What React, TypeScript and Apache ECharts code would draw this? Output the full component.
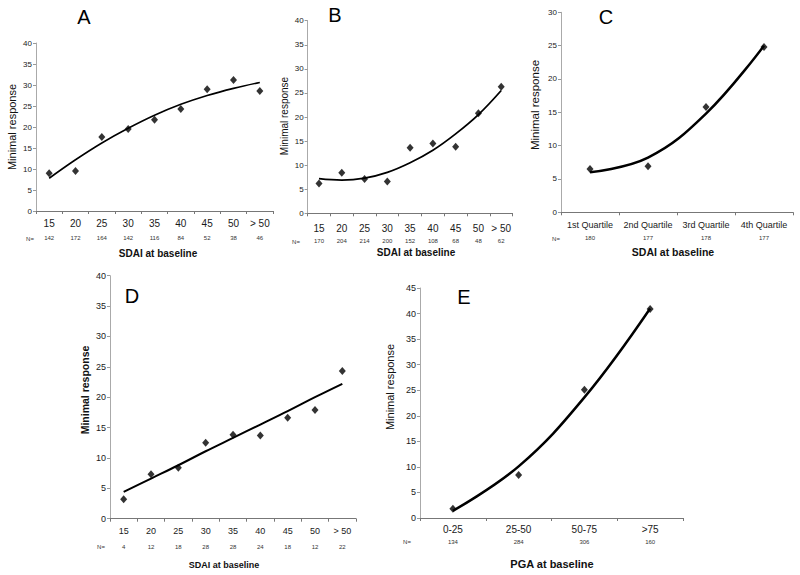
import React, { useEffect, useRef } from "react";
import * as echarts from "echarts";

const FONT = "'Liberation Sans', Arial, sans-serif";

const catsSDAI = ["15", "20", "25", "30", "35", "40", "45", "50", "> 50"];
const catsQuartile = ["1st Quartile", "2nd Quartile", "3rd Quartile", "4th Quartile"];
const catsPGA = ["0-25", "25-50", "50-75", ">75"];

const nA = ["142", "172", "164", "142", "116", "84", "52", "38", "46"];
const pointsA = [9.0, 9.5, 17.6, 19.5, 21.7, 24.3, 29.0, 31.2, 28.6];
const trendA = [7.8, 12.2, 16.2, 19.7, 22.8, 25.4, 27.5, 29.2, 30.6];

const nB = ["170", "204", "214", "200", "152", "108", "68", "48", "62"];
const pointsB = [6.2, 8.4, 7.1, 6.6, 13.6, 14.5, 13.8, 20.8, 26.3];
const trendB = [7.2, 6.9, 7.3, 8.5, 10.5, 13.1, 16.5, 20.5, 25.5];

const nC = ["180", "177", "178", "177"];
const pointsC = [6.5, 6.9, 15.8, 24.8];
const trendC = [6.0, 8.2, 14.8, 25.0];

const nD = ["4", "12", "18", "28", "28", "24", "18", "12", "22"];
const pointsD = [3.2, 7.3, 8.4, 12.5, 13.8, 13.7, 16.6, 17.9, 24.3];
const trendD = [4.4, 6.6, 8.8, 11.1, 13.3, 15.5, 17.7, 20.0, 22.2];

const nE = ["134", "284", "306", "160"];
const pointsE = [1.8, 8.4, 25.1, 40.9];
const trendE = [1.4, 10.1, 23.6, 41.0];

const panels = [
  {
    letter: "A", cats: catsSDAI, n: nA, pts: pointsA, trend: trendA, yMax: 40,
    grid: { left: 36, top: 43, width: 237, height: 168 },
    xFont: 10, xMargin: 7, nOffset: 24, yFont: 8, lineW: 1.6,
    title: [84, 17], ylab: { x: 12, y: 127, size: 11, bold: false },
    xname: { text: "SDAI at baseline", x: 158, y: 253, size: 10 },
    neq: [30, 239],
  },
  {
    letter: "B", cats: catsSDAI, n: nB, pts: pointsB, trend: trendB, yMax: 40,
    grid: { left: 307.6, top: 20.7, width: 205, height: 192.6 },
    xFont: 10, xMargin: 10, nOffset: 25, yFont: 8, lineW: 1.8,
    title: [335, 15], ylab: { x: 284, y: 116, size: 10, bold: false },
    xname: { text: "SDAI at baseline", x: 416, y: 252, size: 10 },
    neq: [296, 242],
  },
  {
    letter: "C", cats: catsQuartile, n: nC, pts: pointsC, trend: trendC, yMax: 30,
    grid: { left: 561, top: 12.3, width: 232, height: 200 },
    xFont: 9, xMargin: 8, nOffset: 23, yFont: 8, lineW: 2.5,
    title: [606, 17], ylab: { x: 535, y: 105, size: 11.5, bold: false },
    xname: { text: "SDAI at baseline", x: 673, y: 252, size: 10.5 },
    neq: [556, 239],
  },
  {
    letter: "D", cats: catsSDAI, n: nD, pts: pointsD, trend: trendD, yMax: 40,
    grid: { left: 110, top: 275.7, width: 246, height: 243 },
    xFont: 9, xMargin: 8, nOffset: 25, yFont: 9, lineW: 2,
    title: [132, 296], ylab: { x: 85, y: 390, size: 10.5, bold: true },
    xname: { text: "SDAI at baseline", x: 224, y: 565, size: 9 },
    neq: [101, 547],
  },
  {
    letter: "E", cats: catsPGA, n: nE, pts: pointsE, trend: trendE, yMax: 45,
    grid: { left: 420, top: 288, width: 263, height: 230 },
    xFont: 10, xMargin: 6, nOffset: 21, yFont: 9, lineW: 2.5,
    title: [464, 297], ylab: { x: 390, y: 387, size: 11, bold: false },
    xname: { text: "PGA at baseline", x: 552, y: 564, size: 11 },
    neq: [407, 542],
  },
];

function buildOption() {
  const grid: any[] = [];
  const xAxis: any[] = [];
  const yAxis: any[] = [];
  const series: any[] = [];
  const graphic: any[] = [];

  panels.forEach((p, i) => {
    grid.push({ ...p.grid });
    xAxis.push({
      type: "category",
      gridIndex: i,
      data: p.cats,
      boundaryGap: true,
      axisLine: { show: true, onZero: false, lineStyle: { color: "#777", width: 1 } },
      axisTick: { show: true, length: 3, lineStyle: { color: "#777" } },
      axisLabel: { color: "#1a1a1a", fontSize: p.xFont, fontFamily: FONT, margin: p.xMargin, interval: 0 },
      splitLine: { show: false },
    });
    xAxis.push({
      type: "category",
      gridIndex: i,
      data: p.n,
      position: "bottom",
      offset: p.nOffset,
      boundaryGap: true,
      axisLine: { show: false },
      axisTick: { show: false },
      axisLabel: { color: "#333", fontSize: 6, fontFamily: FONT, margin: 0, interval: 0 },
      splitLine: { show: false },
    });
    yAxis.push({
      type: "value",
      gridIndex: i,
      min: 0,
      max: p.yMax,
      interval: 5,
      splitLine: { show: false },
      axisLine: { show: true, lineStyle: { color: "#aaa", width: 1 } },
      axisTick: { show: true, length: 3, lineStyle: { color: "#999" } },
      axisLabel: { color: "#1a1a1a", fontSize: p.yFont, fontFamily: FONT, margin: 4 },
    });
    series.push({
      type: "line",
      xAxisIndex: 2 * i,
      yAxisIndex: i,
      data: p.trend,
      smooth: 0.4,
      symbol: "none",
      lineStyle: { color: "#000", width: p.lineW },
      z: 2,
    });
    series.push({
      type: "scatter",
      xAxisIndex: 2 * i,
      yAxisIndex: i,
      data: p.pts,
      symbol: "diamond",
      symbolSize: [7, 8],
      itemStyle: { color: "#000" },
      z: 3,
    });
    graphic.push({
      type: "text",
      x: p.title[0],
      y: p.title[1],
      style: { text: p.letter, fill: "#000", font: `20px ${FONT}`, textAlign: "center", textVerticalAlign: "middle" },
    });
    graphic.push({
      type: "text",
      x: p.ylab.x,
      y: p.ylab.y,
      rotation: Math.PI / 2,
      style: {
        text: "Minimal response",
        fill: "#111",
        font: `${p.ylab.bold ? "bold " : ""}${p.ylab.size}px ${FONT}`,
        textAlign: "center",
        textVerticalAlign: "middle",
      },
    });
    graphic.push({
      type: "text",
      x: p.xname.x,
      y: p.xname.y,
      style: {
        text: p.xname.text,
        fill: "#111",
        font: `bold ${p.xname.size}px ${FONT}`,
        textAlign: "center",
        textVerticalAlign: "middle",
      },
    });
    graphic.push({
      type: "text",
      x: p.neq[0],
      y: p.neq[1],
      style: { text: "N=", fill: "#333", font: `6px ${FONT}`, textAlign: "center", textVerticalAlign: "middle" },
    });
  });

  return {
    animation: false,
    backgroundColor: "#fff",
    grid,
    xAxis,
    yAxis,
    series,
    graphic,
  };
}

export default function App() {
  const ref = useRef<HTMLDivElement>(null);
  useEffect(() => {
    if (!ref.current) return;
    const chart = echarts.init(ref.current, undefined, { renderer: "svg" });
    chart.setOption(buildOption() as any);
    return () => chart.dispose();
  }, []);
  return (
    <div
      ref={ref}
      style={{ position: "fixed", left: 0, top: 0, width: 800, height: 575, background: "#fff" }}
    />
  );
}
